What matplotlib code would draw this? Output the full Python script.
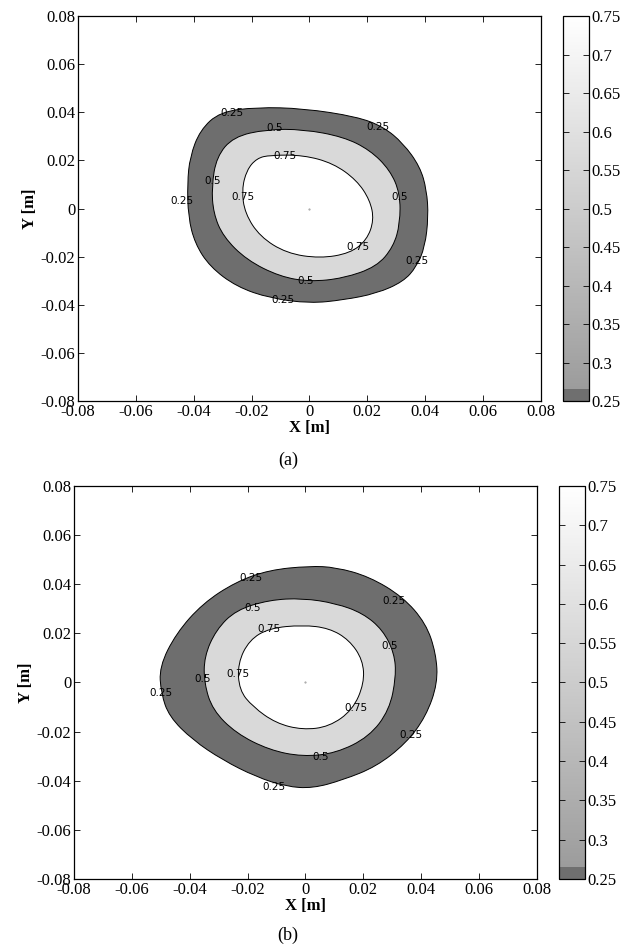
import numpy as np
import matplotlib
matplotlib.use("Agg")
import matplotlib.pyplot as plt
from matplotlib.colors import LinearSegmentedColormap, Normalize
from matplotlib.cm import ScalarMappable
from matplotlib.path import Path
from matplotlib.patches import PathPatch

plt.rcParams['font.family'] = 'Liberation Serif'
plt.rcParams['axes.unicode_minus'] = False

levels = [0.25, 0.5, 0.75]
ticks = [-0.08, -0.06, -0.04, -0.02, 0, 0.02, 0.04, 0.06, 0.08]
cbar_ticks = [0.25, 0.3, 0.35, 0.4, 0.45, 0.5, 0.55, 0.6, 0.65, 0.7, 0.75]

# (a) contour boundaries
a_x025 = [-0.0309, -0.0182, -0.0021, 0.0163, 0.0255, 0.0324, 0.0382, 0.0405, 0.0411, 0.0399, 0.0370, 0.0324,
          0.0232, 0.0117, 0.0002, -0.0136, -0.0252, -0.0344, -0.0396, -0.0419, -0.0422, -0.0413, -0.0378]
a_y025 = [0.0402, 0.0421, 0.0416, 0.0382, 0.0340, 0.0271, 0.0174, 0.0077, -0.0034, -0.0159, -0.0242, -0.0304,
          -0.0353, -0.0380, -0.0394, -0.0373, -0.0325, -0.0242, -0.0145, -0.0034, 0.0105, 0.0215, 0.0326]
a_x05 = [-0.0148, -0.0021, 0.0117, 0.0209, 0.0278, 0.0313, 0.0313, 0.0290, 0.0232, 0.0117, 0.0002, -0.0102,
         -0.0217, -0.0298, -0.0332, -0.0338, -0.0321, -0.0263]
a_y05 = [0.0329, 0.0329, 0.0298, 0.0243, 0.0160, 0.0063, -0.0062, -0.0159, -0.0242, -0.0290, -0.0304, -0.0283,
         -0.0214, -0.0117, -0.0020, 0.0091, 0.0215, 0.0298]
a_x075 = [-0.0136, -0.0021, 0.0082, 0.0163, 0.0209, 0.0223, 0.0198, 0.0140, 0.0036, -0.0079, -0.0171, -0.0223,
          -0.0234, -0.0217, -0.0182]
a_y075 = [0.0222, 0.0222, 0.0188, 0.0118, 0.0035, -0.0048, -0.0131, -0.0186, -0.0207, -0.0186, -0.0117, -0.0020,
          0.0077, 0.0160, 0.0209]
a_lab_x = [-0.0269, -0.0119, 0.0238, -0.0085, -0.0335, -0.0442, -0.0231, 0.0313, 0.0169, 0.0370, -0.0012, -0.0093]
a_lab_y = [0.0398, 0.0333, 0.0340, 0.0220, 0.0116, 0.0031, 0.0049, 0.0049, -0.0161, -0.0217, -0.0301, -0.0380]
a_lab_t = ['0.25', '0.5', '0.25', '0.75', '0.5', '0.25', '0.75', '0.5', '0.75', '0.25', '0.5', '0.25']

# (b)
b_x025 = [0.0013, -0.0125, -0.0240, -0.0355, -0.0447, -0.0505, -0.0499, -0.0471, -0.0390, -0.0286, -0.0171,
          -0.0067, 0.0025, 0.0129, 0.0244, 0.0347, 0.0416, 0.0457, 0.0451, 0.0416, 0.0336, 0.0220, 0.0105]
b_y025 = [0.0474, 0.0458, 0.0410, 0.0322, 0.0200, 0.0064, -0.0044, -0.0139, -0.0234, -0.0316, -0.0384,
          -0.0424, -0.0431, -0.0397, -0.0343, -0.0248, -0.0139, -0.0003, 0.0119, 0.0241, 0.0349, 0.0431, 0.0469]
b_x05 = [-0.0125, -0.0240, -0.0309, -0.0350, -0.0350, -0.0321, -0.0240, -0.0125, -0.0010, 0.0105, 0.0220, 0.0290,
         0.0313, 0.0307, 0.0267, 0.0198, 0.0105, -0.0010]
b_y05 = [0.0336, 0.0295, 0.0214, 0.0105, -0.0003, -0.0112, -0.0207, -0.0275, -0.0302, -0.0288, -0.0221, -0.0112,
         0.0024, 0.0119, 0.0214, 0.0282, 0.0322, 0.0343]
b_x075 = [-0.0010, -0.0125, -0.0194, -0.0234, -0.0229, -0.0182, -0.0102, -0.0010, 0.0082, 0.0163, 0.0203, 0.0198,
          0.0151, 0.0082]
b_y075 = [0.0234, 0.0221, 0.0173, 0.0078, -0.0031, -0.0099, -0.0166, -0.0193, -0.0180, -0.0112, -0.0003, 0.0092,
          0.0173, 0.0221]
b_lab_x = [-0.0188, 0.0307, -0.0182, -0.0125, 0.0290, -0.0234, -0.0355, -0.0499, 0.0174, 0.0365, 0.0054, -0.0108]
b_lab_y = [0.0424, 0.0333, 0.0305, 0.0218, 0.0150, 0.0033, 0.0014, -0.0044, -0.0105, -0.0214, -0.0302, -0.0424]
b_lab_t = ['0.25', '0.25', '0.5', '0.75', '0.5', '0.75', '0.5', '0.25', '0.75', '0.25', '0.5', '0.25']

fill_colors = ['#6e6e6e', '#d9d9d9', '#ffffff']
cmap = LinearSegmentedColormap.from_list('g', [(0, '#6f6f6f'), (0.03, '#6f6f6f'), (0.031, '#9c9c9c'),
                                               (1, '#ffffff')])

fig = plt.figure(figsize=(6.33, 9.44), dpi=100)


def smooth_ring(xs, ys):
    # closed quadratic-bezier path through midpoints, drawn by matplotlib
    p = np.column_stack([xs, ys])
    n = len(p)
    mid = (p + np.roll(p, -1, axis=0)) / 2
    verts = [mid[-1]]
    codes = [Path.MOVETO]
    for i in range(n):
        verts += [p[i], mid[i]]
        codes += [Path.CURVE3, Path.CURVE3]
    verts.append(mid[-1])
    codes.append(Path.CLOSEPOLY)
    return Path(verts, codes)


def panel(rect, cbrect, rings, labs, caption, cap_y):
    ax = fig.add_axes(rect)
    for (xs, ys), c in zip(rings, fill_colors):
        ax.add_patch(PathPatch(smooth_ring(xs, ys), facecolor=c, edgecolor='black', linewidth=0.7))
    ax.plot(0, 0, '.', color='#999999', markersize=1)
    for x, y, t in zip(*labs):
        ax.text(x, y, t, fontsize=7.5, family='DejaVu Sans', ha='center', va='center')
    ax.set_xlim(-0.08, 0.08)
    ax.set_ylim(-0.08, 0.08)
    ax.set_xticks(ticks)
    ax.set_yticks(ticks)
    ax.set_xticklabels(['%g' % t for t in ticks])
    ax.set_yticklabels(['%g' % t for t in ticks])
    ax.tick_params(direction='in', top=True, right=True, length=4, width=0.6, labelsize=12, pad=2)
    for s in ax.spines.values():
        s.set_linewidth(0.9)
    ax.set_xlabel('X [m]', fontsize=12, fontweight='bold', labelpad=0)
    ax.set_ylabel('Y [m]', fontsize=12, fontweight='bold', labelpad=2)

    cax = fig.add_axes(cbrect)
    cb = fig.colorbar(ScalarMappable(Normalize(0.25, 0.75), cmap), cax=cax, ticks=cbar_ticks)
    cb.ax.set_yticklabels(['%g' % t for t in cbar_ticks])
    cb.ax.tick_params(direction='in', left=True, right=True, length=4, width=0.6, labelsize=12, pad=2)
    cb.outline.set_linewidth(0.9)
    fig.text(0.455, cap_y, caption, fontsize=13, ha='center', va='center')


panel([0.1232, 0.5752, 0.7314, 0.4078], [0.8894, 0.5752, 0.041, 0.4078],
      [(a_x025, a_y025), (a_x05, a_y05), (a_x075, a_y075)], (a_lab_x, a_lab_y, a_lab_t), '(a)', 1 - 460 / 944)
panel([0.1169, 0.0689, 0.7314, 0.4163], [0.8831, 0.0689, 0.041, 0.4163],
      [(b_x025, b_y025), (b_x05, b_y05), (b_x075, b_y075)], (b_lab_x, b_lab_y, b_lab_t), '(b)', 1 - 935 / 944)

fig.savefig('out.png', dpi=100)
